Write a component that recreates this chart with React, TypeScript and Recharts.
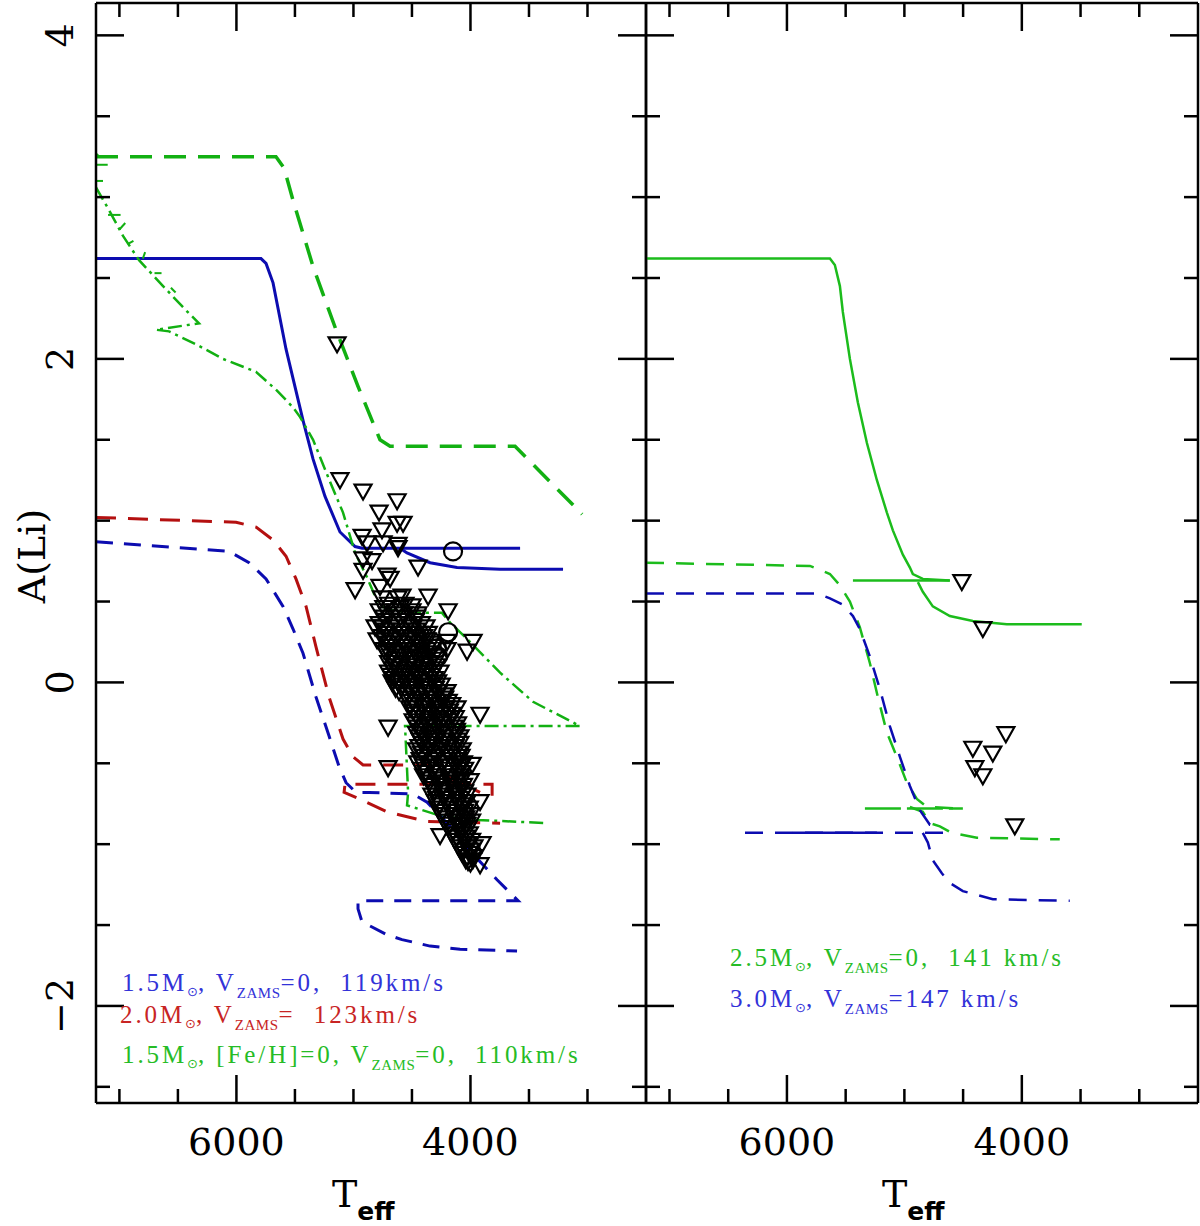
import React from 'react';
import { ComposedChart, Line, Scatter, XAxis, YAxis, ReferenceLine } from 'recharts';

// ---------- axis settings ----------
const T_DOMAIN: [number, number] = [2500, 7200];
const A_DOMAIN: [number, number] = [-2.6, 4.2];
const X_TICKS = [3000, 3500, 4000, 4500, 5000, 5500, 6000, 6500, 7000];
const X_MAJOR = [4000, 6000];
const Y_TICKS = [-2.5, -2, -1.5, -1, -0.5, 0, 0.5, 1, 1.5, 2, 2.5, 3, 3.5, 4];
const Y_MAJOR = [-2, 0, 2, 4];
const Y_LABELS: Record<string, string> = { '-2': '\u22122', '0': '0', '2': '2', '4': '4' };

// ---------- left panel model tracks [Teff, A(Li)] ----------
const LEFT_GREEN_DASHED = [[7200, 3.25], [5662, 3.25], [5593, 3.18], [5516, 2.98], [5345, 2.57], [5149, 2.18], [4961, 1.83], [4773, 1.5], [4687, 1.46], [3619, 1.46], [3046, 1.04]];
const LEFT_BLUE_SOLID = [[7200, 2.62], [5790, 2.62], [5747, 2.59], [5687, 2.47], [5576, 2.06], [5431, 1.62], [5345, 1.38], [5243, 1.15], [5115, 0.93], [4986, 0.84], [4926, 0.83], [3576, 0.83]];
const LEFT_BLUE_SOLID_2 = [[4602, 0.83], [4542, 0.8], [4345, 0.74], [4115, 0.71], [3747, 0.7], [3209, 0.7]];
const LEFT_GREEN_DASHDOT = [[7200, 3.06], [7089, 2.92], [6969, 2.76], [6832, 2.61], [6627, 2.45], [6431, 2.3], [6320, 2.22], [6687, 2.18], [6576, 2.17], [6345, 2.09], [6115, 2.0], [5833, 1.92], [5662, 1.81], [5516, 1.7], [5456, 1.64], [5345, 1.5], [5200, 1.24], [5089, 1.05], [4986, 0.8], [4884, 0.65], [4790, 0.49], [4713, 0.45], [4491, 0.43], [4243, 0.43], [4174, 0.37], [4004, 0.25], [3747, 0.06], [3465, -0.12], [3063, -0.27], [4559, -0.27], [4533, -0.68], [4542, -0.76], [4234, -0.83], [3944, -0.85], [3345, -0.87]];
const LEFT_GREEN_NOISE = [
  [[7200, 3.27], [7170, 3.25]],
  [[7200, 3.2], [7100, 3.2]],
  [[7200, 3.1], [7140, 3.1]],
  [[7097, 2.89], [6990, 2.89]],
  [[7000, 2.8], [6950, 2.84]],
  [[6930, 2.71], [6880, 2.73]],
  [[6800, 2.62], [6780, 2.66]],
  [[6700, 2.53], [6640, 2.53]],
  [[6560, 2.44], [6520, 2.41]],
];
const LEFT_RED_DASHED = [[7200, 1.02], [6003, 0.99], [5832, 0.96], [5687, 0.88], [5576, 0.78], [5491, 0.64], [5405, 0.47], [5320, 0.22], [5209, -0.09], [5089, -0.35], [5003, -0.46], [4918, -0.51], [4807, -0.51], [4371, -0.51], [4260, -0.56], [3918, -0.68]];
const LEFT_RED_DASHED_2 = [[3815, -0.7], [3815, -0.63], [5072, -0.63], [5080, -0.68], [4952, -0.72], [4713, -0.8], [4602, -0.82], [4371, -0.86], [3747, -0.87]];
const LEFT_BLUE_DASHED = [[7200, 0.87], [6063, 0.81], [5892, 0.74], [5747, 0.64], [5602, 0.47], [5516, 0.33], [5431, 0.18], [5320, -0.09], [5209, -0.33], [5123, -0.52], [5063, -0.62], [4978, -0.68], [4867, -0.68], [4491, -0.69], [4371, -0.74], [4174, -0.89], [4046, -1.01], [3773, -1.22], [3593, -1.35], [4961, -1.35], [4961, -1.4], [4927, -1.48], [4713, -1.56], [4585, -1.59], [4345, -1.63], [4089, -1.65], [3602, -1.66]];

// ---------- right panel model tracks ----------
const RIGHT_GREEN_SOLID = [[7200, 2.62], [5634, 2.62], [5592, 2.58], [5549, 2.45], [5524, 2.29], [5464, 2.0], [5396, 1.73], [5319, 1.48], [5234, 1.25], [5149, 1.05], [5098, 0.94], [5013, 0.79], [4953, 0.71], [4928, 0.67], [4843, 0.64], [4613, 0.63]];
const RIGHT_GREEN_SOLID_H = [[5438, 0.63], [4613, 0.63]];
const RIGHT_GREEN_SOLID_2 = [[4885, 0.62], [4843, 0.56], [4758, 0.47], [4613, 0.41], [4417, 0.38], [4128, 0.36], [3490, 0.36]];
const RIGHT_GREEN_DASHED = [[7200, 0.74], [5804, 0.72], [5634, 0.67], [5549, 0.6], [5464, 0.5], [5379, 0.34], [5294, 0.12], [5226, -0.09], [5149, -0.31], [5064, -0.46], [4979, -0.62], [4894, -0.72], [4809, -0.77], [4502, -0.78]];
const RIGHT_GREEN_DASHED_H = [[5336, -0.78], [4502, -0.78]];
const RIGHT_GREEN_DASHED_2 = [[4953, -0.77], [4843, -0.8], [4783, -0.87], [4698, -0.89], [4596, -0.93], [4383, -0.96], [3677, -0.97]];
const RIGHT_BLUE_DASHED = [[7200, 0.55], [5745, 0.55], [5634, 0.52], [5524, 0.48], [5438, 0.41], [5379, 0.33], [5294, 0.16], [5209, -0.04], [5124, -0.27], [5038, -0.46], [4953, -0.64], [4868, -0.79], [4783, -0.88], [4698, -0.89]];
const RIGHT_BLUE_DASHED_2 = [[4843, -0.93], [4800, -0.99], [4758, -1.1], [4681, -1.18], [4613, -1.24], [4502, -1.29], [4247, -1.34], [3592, -1.35]];
const RIGHT_BLUE_DASHED_H = [[6357, -0.93], [4613, -0.93]];
const RIGHT_BLUE_SOLID_H = [[5949, -0.93], [5234, -0.93]];

// ---------- observed stars ----------
const LEFT_UPPER_LIMITS = [
  [5140, 2.09], [5115, 1.25], [4918, 1.18], [4627, 1.12], [4781, 1.05], [4756, 0.94], [4627, 0.98], [4576, 0.98],
  [4926, 0.9], [4884, 0.86], [4747, 0.86], [4619, 0.85], [4619, 0.83], [4448, 0.71], [4918, 0.76], [4841, 0.75],
  [4918, 0.69], [4986, 0.57], [4713, 0.66], [4687, 0.64], [4773, 0.59], [4362, 0.53], [4585, 0.53], [4499, 0.47],
  [4191, 0.44], [3978, 0.25], [4029, 0.19], [4200, 0.25], [4200, 0.2], [4815, 0.34], [4798, 0.26], [4704, 0.19],
  [4670, 0.0], [3918, -0.2], [4115, -0.16], [4704, -0.28], [4704, -0.53], [4260, -0.95], [4021, -1.11], [3918, -1.13],
  [3918, -0.74], [3901, -1.0], [4003, -0.61], [3986, -0.51], [4619, 0.0],
  [4760, 0.52], [4620, 0.52], [4700, 0.48], [4560, 0.48], [4780, 0.44], [4640, 0.44], [4500, 0.44],
  [4740, 0.4], [4600, 0.4], [4460, 0.4], [4780, 0.36], [4660, 0.36], [4530, 0.36], [4420, 0.36],
  [4720, 0.32], [4590, 0.32], [4460, 0.32], [4760, 0.28], [4640, 0.28], [4510, 0.28], [4400, 0.28],
  [4700, 0.24], [4570, 0.24], [4440, 0.24], [4340, 0.24], [4740, 0.2], [4620, 0.2], [4490, 0.2], [4370, 0.2],
  [4680, 0.16], [4550, 0.16], [4420, 0.16], [4310, 0.16], [4700, 0.12], [4590, 0.12], [4470, 0.12], [4350, 0.12],
  [4660, 0.08], [4540, 0.08], [4420, 0.08], [4300, 0.08], [4680, 0.04], [4560, 0.04], [4450, 0.04], [4330, 0.04],
  [4620, 0.0], [4500, 0.0], [4390, 0.0], [4280, 0.0], [4640, -0.04], [4530, -0.04], [4420, -0.04], [4300, -0.04],
  [4560, -0.08], [4450, -0.08], [4340, -0.08], [4230, -0.08], [4500, -0.12], [4390, -0.12], [4290, -0.12], [4190, -0.12],
  [4520, -0.16], [4410, -0.16], [4310, -0.16], [4210, -0.16], [4470, -0.2], [4370, -0.2], [4260, -0.2], [4160, -0.2],
  [4490, -0.24], [4390, -0.24], [4280, -0.24], [4180, -0.24], [4450, -0.28], [4350, -0.28], [4240, -0.28], [4140, -0.28],
  [4460, -0.32], [4360, -0.32], [4260, -0.32], [4120, -0.32], [4430, -0.36], [4330, -0.36], [4220, -0.36], [4110, -0.36],
  [4440, -0.4], [4340, -0.4], [4240, -0.4], [4130, -0.4], [4420, -0.44], [4310, -0.44], [4200, -0.44], [4100, -0.44],
  [4430, -0.48], [4320, -0.48], [4220, -0.48], [4110, -0.48], [4400, -0.52], [4300, -0.52], [4190, -0.52], [4090, -0.52],
  [4380, -0.56], [4280, -0.56], [4170, -0.56], [4080, -0.56], [4360, -0.6], [4250, -0.6], [4150, -0.6], [4070, -0.6],
  [4330, -0.64], [4230, -0.64], [4130, -0.64], [4060, -0.64], [4310, -0.68], [4210, -0.68], [4110, -0.68], [4050, -0.68],
  [4290, -0.72], [4190, -0.72], [4090, -0.72], [4260, -0.76], [4160, -0.76], [4060, -0.76],
  [4240, -0.8], [4140, -0.8], [4050, -0.8], [4210, -0.84], [4110, -0.84], [4040, -0.84],
  [4180, -0.88], [4090, -0.88], [4030, -0.88], [4150, -0.92], [4070, -0.92], [4120, -0.96], [4040, -0.96],
  [4090, -1.0], [4020, -1.0], [4060, -1.04], [4000, -1.04], [4030, -1.08], [3980, -1.08], [4000, -1.12],
];
const LEFT_UPPER_LIMITS_B = [
  [4740, 0.46], [4600, 0.46], [4710, 0.42], [4570, 0.42], [4450, 0.42], [4720, 0.38], [4590, 0.38], [4470, 0.38],
  [4750, 0.34], [4620, 0.34], [4490, 0.34], [4380, 0.34], [4700, 0.3], [4570, 0.3], [4440, 0.3], [4360, 0.3],
  [4730, 0.26], [4600, 0.26], [4470, 0.26], [4370, 0.26], [4670, 0.22], [4540, 0.22], [4410, 0.22], [4320, 0.22],
  [4720, 0.18], [4590, 0.18], [4460, 0.18], [4340, 0.18], [4640, 0.14], [4510, 0.14], [4390, 0.14], [4290, 0.14],
  [4650, 0.1], [4530, 0.1], [4410, 0.1], [4290, 0.1], [4700, 0.06], [4600, 0.06], [4480, 0.06], [4360, 0.06], [4260, 0.06],
  [4650, 0.02], [4540, 0.02], [4420, 0.02], [4310, 0.02], [4580, -0.02], [4470, -0.02], [4360, -0.02], [4250, -0.02],
  [4610, -0.06], [4500, -0.06], [4390, -0.06], [4270, -0.06], [4200, -0.06], [4540, -0.1], [4430, -0.1], [4320, -0.1], [4220, -0.1],
  [4470, -0.14], [4360, -0.14], [4260, -0.14], [4160, -0.14], [4490, -0.18], [4380, -0.18], [4280, -0.18], [4180, -0.18],
  [4450, -0.22], [4340, -0.22], [4230, -0.22], [4130, -0.22], [4470, -0.26], [4360, -0.26], [4250, -0.26], [4110, -0.26],
  [4420, -0.3], [4310, -0.3], [4200, -0.3], [4120, -0.3], [4440, -0.34], [4330, -0.34], [4230, -0.34], [4090, -0.34],
  [4410, -0.38], [4300, -0.38], [4190, -0.38], [4090, -0.38], [4460, -0.42], [4370, -0.42], [4260, -0.42], [4150, -0.42], [4070, -0.42],
  [4400, -0.46], [4290, -0.46], [4170, -0.46], [4080, -0.46], [4450, -0.5], [4350, -0.5], [4240, -0.5], [4140, -0.5], [4060, -0.5],
  [4420, -0.54], [4320, -0.54], [4210, -0.54], [4110, -0.54], [4050, -0.54], [4400, -0.58], [4300, -0.58], [4190, -0.58], [4100, -0.58],
  [4350, -0.62], [4280, -0.62], [4170, -0.62], [4090, -0.62], [4320, -0.66], [4250, -0.66], [4150, -0.66], [4080, -0.66],
  [4330, -0.7], [4230, -0.7], [4130, -0.7], [4030, -0.7], [4300, -0.74], [4210, -0.74], [4110, -0.74], [4030, -0.74],
  [4280, -0.78], [4180, -0.78], [4080, -0.78], [4010, -0.78], [4250, -0.82], [4150, -0.82], [4060, -0.82], [4000, -0.82],
  [4220, -0.86], [4130, -0.86], [4050, -0.86], [3990, -0.86], [4190, -0.9], [4100, -0.9], [4020, -0.9],
  [4160, -0.94], [4080, -0.94], [4010, -0.94], [4130, -0.98], [4050, -0.98], [3990, -0.98],
  [4100, -1.02], [4030, -1.02], [3970, -1.02], [4070, -1.06], [4000, -1.06], [4040, -1.1], [3980, -1.1],
];
const LEFT_DETECTIONS = [[4149, 0.81], [4191, 0.31], [4328, 0.25], [4286, 0.21], [4277, 0.16], [4388, 0.11], [4474, 0.14]];
const RIGHT_UPPER_LIMITS = [[4511, 0.62], [4332, 0.33], [4136, -0.32], [4417, -0.41], [4247, -0.44], [4400, -0.53], [4332, -0.58], [4060, -0.89]];

// ---------- colours ----------
const BLUE = '#0c0cb0';
const RED = '#b41010';
const GREEN = '#12b012';
const GREEN_R = '#1cbc1c';
const BLUE_TXT = '#3232d8';
const RED_TXT = '#c82424';
const GREEN_TXT = '#26bc26';

const toPts = (arr: number[][]) => arr.map(([t, a]) => ({ t, a }));

const PLOT_H = 1100;

function xTick(panelW: number) {
  return (props: any) => {
    const { x, y, payload } = props;
    const major = X_MAJOR.includes(payload.value);
    const len = major ? 28 : 14;
    return (
      <g>
        <line x1={x} y1={y} x2={x} y2={y - len} stroke="#000" strokeWidth={2.5} />
        <line x1={x} y1={y - PLOT_H} x2={x} y2={y - PLOT_H + len} stroke="#000" strokeWidth={2.5} />
        {major && (
          <text x={x} y={y + 52} textAnchor="middle" fontFamily="DejaVu Serif" fontSize={38} fill="#000">
            {payload.value}
          </text>
        )}
      </g>
    );
  };
}

function yTick(panelW: number, withLabels: boolean) {
  return (props: any) => {
    const { x, y, payload } = props;
    const major = Y_MAJOR.includes(payload.value);
    const len = major ? 28 : 14;
    const lx = x - 23;
    return (
      <g>
        <line x1={x} y1={y} x2={x + len} y2={y} stroke="#000" strokeWidth={2.5} />
        <line x1={x + panelW} y1={y} x2={x + panelW - len} y2={y} stroke="#000" strokeWidth={2.5} />
        {withLabels && major && (
          <text x={lx} y={y} textAnchor="middle" fontFamily="DejaVu Serif" fontSize={38} fill="#000" transform={`rotate(-90, ${lx}, ${y})`}>
            {Y_LABELS[String(payload.value)]}
          </text>
        )}
      </g>
    );
  };
}

function axes(panelW: number, labels: boolean) {
  return [
    <XAxis key="xa" xAxisId="x" dataKey="t" type="number" domain={T_DOMAIN} reversed allowDataOverflow ticks={X_TICKS} interval={0}
      height={1} tickSize={0} tickMargin={0} axisLine={false} tickLine={false} tick={xTick(panelW)} />,
    <YAxis key="ya" yAxisId="y" dataKey="a" type="number" domain={A_DOMAIN} allowDataOverflow ticks={Y_TICKS} interval={0}
      width={1} tickSize={0} tickMargin={0} axisLine={false} tickLine={false} tick={yTick(panelW, labels)} />,
  ];
}

function frame() {
  const s = { stroke: '#000', strokeWidth: 2.5 };
  return [
    <ReferenceLine key="f1" xAxisId="x" yAxisId="y" x={T_DOMAIN[0]} {...s} />,
    <ReferenceLine key="f2" xAxisId="x" yAxisId="y" x={T_DOMAIN[1]} {...s} />,
    <ReferenceLine key="f3" xAxisId="x" yAxisId="y" y={A_DOMAIN[0]} {...s} />,
    <ReferenceLine key="f4" xAxisId="x" yAxisId="y" y={A_DOMAIN[1]} {...s} />,
  ];
}

function track(key: string, arr: number[][], color: string, width: number, dash?: string) {
  return (
    <Line key={key} xAxisId="x" yAxisId="y" data={toPts(arr)} dataKey="a" type="linear" stroke={color} strokeWidth={width}
      strokeDasharray={dash} dot={false} activeDot={false} isAnimationActive={false} />
  );
}

const Tri = (props: any) => {
  const { cx, cy } = props;
  if (cx == null || cy == null) return <g />;
  return <path d={`M${cx - 8.5},${cy - 7}L${cx + 8.5},${cy - 7}L${cx},${cy + 8}Z`} fill="none" stroke="#000" strokeWidth={2.2} strokeLinejoin="miter" />;
};
const Circ = (props: any) => {
  const { cx, cy } = props;
  if (cx == null || cy == null) return <g />;
  return <circle cx={cx} cy={cy} r={9} fill="none" stroke="#000" strokeWidth={2.2} />;
};

function Legend({ x, y, color, mass, middle, vz, tail }: { x: number; y: number; color: string; mass: string; middle: string; vz: string; tail: string }) {
  return (
    <text x={x} y={y} fill={color} fontFamily="Liberation Serif" fontSize={25} letterSpacing={2.9} style={{ whiteSpace: 'pre' }}>
      {mass}
      <tspan dy={5} fontSize={13} fontFamily="DejaVu Sans" letterSpacing={0}>{'\u2299'}</tspan>
      <tspan dy={-5}>{middle}</tspan>
      <tspan dy={7} fontSize={15} letterSpacing={0.5}>ZAMS</tspan>
      <tspan dy={-7}>{vz + tail}</tspan>
    </text>
  );
}

export default function App() {
  return (
    <div style={{ position: 'absolute', left: 0, top: 0, width: 1200, height: 1226, background: '#fff', overflow: 'hidden' }}>
      <div style={{ position: 'absolute', left: 0, top: 0 }}>
        <ComposedChart width={1200} height={1226} margin={{ top: 3, bottom: 122, left: 95, right: 554 }}>
          {axes(550, true)}
          {track('l1', LEFT_GREEN_DASHED, GREEN, 3.5, '22 12')}
          {track('l2', LEFT_BLUE_SOLID, BLUE, 3)}
          {track('l3', LEFT_BLUE_SOLID_2, BLUE, 3)}
          {track('l4', LEFT_GREEN_DASHDOT, GREEN, 2.5, '14 5 3 5')}
          {LEFT_GREEN_NOISE.map((seg, i) => track('ln' + i, seg, GREEN, 2))}
          {track('l5', LEFT_RED_DASHED, RED, 3, '20 12')}
          {track('l6', LEFT_RED_DASHED_2, RED, 3, '20 12')}
          {track('l7', LEFT_BLUE_DASHED, BLUE, 3, '17 11')}
          <Scatter xAxisId="x" yAxisId="y" data={toPts(LEFT_UPPER_LIMITS)} shape={Tri} isAnimationActive={false} />
          <Scatter xAxisId="x" yAxisId="y" data={toPts(LEFT_UPPER_LIMITS_B)} shape={Tri} isAnimationActive={false} />
          <Scatter xAxisId="x" yAxisId="y" data={toPts(LEFT_DETECTIONS)} shape={Circ} isAnimationActive={false} />
          {frame()}
        </ComposedChart>
      </div>
      <div style={{ position: 'absolute', left: 0, top: 0 }}>
        <ComposedChart width={1200} height={1226} margin={{ top: 3, bottom: 122, left: 645, right: 2 }}>
          {axes(552, false)}
          {track('r1', RIGHT_GREEN_SOLID, GREEN_R, 2.5)}
          {track('r2', RIGHT_GREEN_SOLID_H, GREEN_R, 2.5)}
          {track('r3', RIGHT_GREEN_SOLID_2, GREEN_R, 2.5)}
          {track('r4', RIGHT_GREEN_DASHED, GREEN_R, 2.5, '18 12')}
          {track('r5', RIGHT_GREEN_DASHED_H, GREEN_R, 2.5, '36 6')}
          {track('r6', RIGHT_GREEN_DASHED_2, GREEN_R, 2.5, '18 12')}
          {track('r7', RIGHT_BLUE_DASHED, BLUE, 2.5, '18 12')}
          {track('r8', RIGHT_BLUE_DASHED_2, BLUE, 2.5, '18 12')}
          {track('r9', RIGHT_BLUE_DASHED_H, BLUE, 2.5, '18 12')}
          {track('r10', RIGHT_BLUE_SOLID_H, BLUE, 2.5)}
          <Scatter xAxisId="x" yAxisId="y" data={toPts(RIGHT_UPPER_LIMITS)} shape={Tri} isAnimationActive={false} />
          {frame()}
        </ComposedChart>
      </div>
      <svg width={1200} height={1226} style={{ position: 'absolute', left: 0, top: 0, pointerEvents: 'none' }}>
        <text x={45} y={556} textAnchor="middle" fontFamily="DejaVu Serif" fontSize={38} fill="#000" transform="rotate(-90, 45, 556)">A(Li)</text>
        <text x={332} y={1207} fontFamily="DejaVu Serif" fontSize={38} fill="#000">T<tspan dy={13} fontFamily="DejaVu Sans" fontWeight="bold" fontSize={25}>eff</tspan></text>
        <text x={882} y={1207} fontFamily="DejaVu Serif" fontSize={38} fill="#000">T<tspan dy={13} fontFamily="DejaVu Sans" fontWeight="bold" fontSize={25}>eff</tspan></text>
        <Legend x={122} y={991} color={BLUE_TXT} mass="1.5M" middle=", V" vz="=0, " tail=" 119km/s" />
        <Legend x={120} y={1023} color={RED_TXT} mass="2.0M" middle=", V" vz="= " tail=" 123km/s" />
        <Legend x={122} y={1063} color={GREEN_TXT} mass="1.5M" middle=", [Fe/H]=0, V" vz="=0, " tail=" 110km/s" />
        <Legend x={730} y={966} color={GREEN_TXT} mass="2.5M" middle=", V" vz="=0, " tail=" 141 km/s" />
        <Legend x={730} y={1007} color={BLUE_TXT} mass="3.0M" middle=", V" vz="=147" tail=" km/s" />
      </svg>
    </div>
  );
}
